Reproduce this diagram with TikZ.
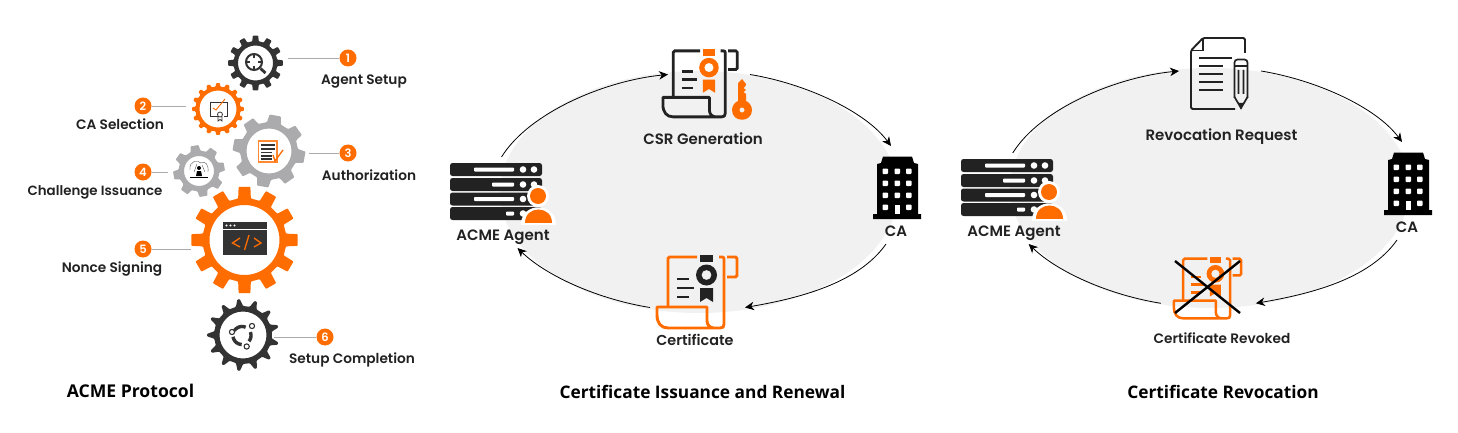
\documentclass[tikz,border=0pt]{standalone}
\usepackage{fontspec}
\setmainfont{Poppins}
\newfontfamily\labfont{Poppins}[UprightFont=* SemiBold]
\newfontfamily\titfont{Open Sans}[UprightFont=* Bold]
\usetikzlibrary{arrows.meta}
\definecolor{ora}{HTML}{FF6D00}
\definecolor{drk}{HTML}{333333}
\definecolor{blk}{HTML}{222222}
\definecolor{gry}{HTML}{ABABAD}
\definecolor{lin}{HTML}{ABABAB}
\definecolor{bgg}{HTML}{F1F1F1}
\tikzset{
  lab/.style={font=\labfont\fontsize{13.7}{15}\selectfont,text=blk,inner sep=0pt,anchor=base},
  labm/.style={lab,font=\labfont\fontsize{15}{17}\selectfont},
  tit/.style={font=\titfont\fontsize{17.3}{20}\selectfont,text=black,inner sep=0pt,anchor=base},
  badge/.style={circle,fill=ora,text=white,minimum size=17pt,inner sep=0pt,font=\labfont\fontsize{11.5}{12}\selectfont},
  holder/.style={inner sep=0pt,outer sep=0pt},
  lead/.style={draw=lin,line width=0.8pt},
  flow/.style={black,line width=0.8pt,-{Stealth[length=9pt,width=8.5pt,inset=2.8pt]}}
}
% centre, colour, tip, root, hole, teeth, rotation, tip half-width, root half-width (fractions of pitch)
\newcommand{\gearfill}[9]{%
  \begin{scope}[shift={#1}]
    \pgfmathsetmacro{\gp}{360/#6}
    \pgfmathsetmacro{\gt}{#8*\gp}
    \pgfmathsetmacro{\gr}{#9*\gp}
    \fill[#2,even odd rule,rounded corners=0.8pt] ({#7-\gr}:#4)
      \foreach \i in {0,...,\numexpr#6-1\relax}{
        -- ({#7+\i*\gp-\gr}:#4) -- ({#7+\i*\gp-\gt}:#3) -- ({#7+\i*\gp+\gt}:#3) -- ({#7+\i*\gp+\gr}:#4)
      } -- cycle (0,0) circle[radius=#5pt];
  \end{scope}}
% rack server with the person, placed by offset
\newcommand{\serverpic}[1]{%
  \begin{scope}[shift={#1}]
    \foreach \yy/\dd in {163/474,178/492,192.5/474,207/506}{
      \fill[blk,rounded corners=2.5pt] (450,\yy) rectangle (542,\yy+13);
      \fill[white,rounded corners=0.8pt] (\dd,\yy+4.5) rectangle (514,\yy+8.5);
      \fill[white] (523,\yy+6.5) circle[radius=3.3pt] (534,\yy+6.5) circle[radius=3.3pt];
    }
    \fill[white] (538,196) circle[radius=11pt];
    \fill[ora] (538,196) circle[radius=8pt];
    \fill[white] (521,225) -- (521,223) .. controls (523,202) and (554,202) .. (556,223) -- (556,225) -- cycle;
    \fill[ora] (525,223) .. controls (525,205) and (552,205) .. (552,223) -- cycle;
  \end{scope}}
% office building, placed by offset
\newcommand{\buildingpic}[1]{%
  \begin{scope}[shift={#1}]
    \fill[black] (881,163) -- (883,156.5) -- (912,156.5) -- (914,163) -- (918,164) -- (918,214) -- (921,214) -- (921,219) -- (873,219) -- (873,214) -- (877,214) -- (877,164) -- cycle;
    \foreach \yy in {171,183,195,207}{
      \fill[white,rounded corners=0.8pt] (882.5,\yy-2.5) rectangle ++(5.5,5.5);
      \fill[white,rounded corners=0.8pt] (906,\yy-2.5) rectangle ++(5.5,5.5);
    }
    \foreach \yy in {171,183,195}{
      \fill[white,rounded corners=0.8pt] (894.5,\yy-2.5) rectangle ++(5.5,5.5);
    }
    \fill[white] (894.5,205) rectangle (900,214);
  \end{scope}}
% scroll with medal: offset, scale, outline colour, medal colour, line width, text-line colour
\newcommand{\scrollpic}[6]{%
  \begin{scope}[shift={#1},scale=#2]
    \draw[#3,line width=#5pt,rounded corners=1.5pt] (41,2) -- (12,2) -- (12,52);
    \draw[#3,line width=#5pt,line join=round] (63,2) -- (66,2) .. controls (67.5,2) and (68,2.5) .. (68,4) -- (68,69) .. controls (68,72) and (67,73) .. (64,73) -- (12,73) .. controls (5,73) and (1,68) .. (1,60) -- (1,52) -- (51,52) -- (51,66) .. controls (51,70) and (54,73) .. (58,73);
    \draw[#3,line width=#5pt,rounded corners=1.5pt] (71,2) -- (81,2) -- (81,22) -- (71,22);
    \fill[#4] (44,0) rectangle (57,7);
    \fill[#4,even odd rule] (50.5,20) circle[radius=10.5pt] (50.5,20) circle[radius=5pt];
    \fill[#4] (44,33) -- (57,33) -- (57,47) -- (50.5,43) -- (44,47) -- cycle;
    \draw[#6,line width=#5pt] (21,24) -- (33,24) (21,33) -- (38,33) (21,42) -- (33,42);
  \end{scope}}
\begin{document}
\begin{tikzpicture}[x=1pt,y=-1pt]
\useasboundingbox (0,0) rectangle (1458,433);
\fill[white] (0,0) rectangle (1458,433);
% grey discs
\fill[bgg] (699,192) ellipse[x radius=199pt,y radius=121pt];
\fill[bgg] (1210,188) ellipse[x radius=200pt,y radius=120pt];

% ---------- left panel: gears
\gearfill{(255.5,63)}{drk}{27.5}{22}{17.5}{12}{0}{0.2}{0.27}
\gearfill{(218,109)}{ora}{26}{22.5}{18.5}{16}{0}{0.18}{0.27}
\gearfill{(199,171)}{gry}{26}{20.5}{15}{8}{-10}{0.2}{0.31}
\gearfill{(269,151)}{gry}{36.5}{29}{22.5}{8}{10}{0.2}{0.31}
\gearfill{(244.5,240)}{ora}{53.5}{42}{35}{12}{0}{0.21}{0.29}
\gearfill{(243,335)}{drk}{36}{29}{23.5}{13}{-97}{0.07}{0.26}
% gear icons
\draw[drk,line width=2pt] (254,62) circle[radius=8pt];
\draw[drk,line width=1.5pt] (254,55) -- (254,58) (254,66) -- (254,69) (247,62) -- (250,62) (258,62) -- (261,62);
\draw[drk,line width=2.8pt] (260.5,68.5) -- (265.5,73);
\draw[drk,line width=0.9pt] (218,116) -- (210,116) -- (210,102) -- (227,102) -- (227,116) -- (224,116);
\draw[ora,line width=0.9pt] (213,108) -- (216,110) -- (225,99);
\draw[drk,line width=0.8pt] (220,114.5) circle[radius=2.5pt] (218,117) -- (218,121) -- (220,119.5) -- (222,121) -- (222,117);
\draw[ora!80,line width=1.2pt,fill=white] (258.5,141) rectangle (277,162);
\draw[drk,line width=1.1pt] (261,145) -- (275,145) (261,149) -- (275,149) (261,152.5) -- (272,152.5) (261,156) -- (272,156) (261,159) -- (272,159);
\draw[ora,line width=1.3pt] (273,155) -- (275,161) -- (283,150);
\draw[drk,line width=0.3pt] (190,170) .. controls (189,160) and (198,160) .. (201,163) .. controls (205,160) and (209,165) .. (208,172)
  (194,172) -- (197,164) (205,172) -- (202,165);
\fill[black] (199,168) circle[radius=2pt] (196,176) -- (197,171) -- (201,171) -- (202,176) -- cycle;
\draw[black,line width=1.8pt] (190,177.5) -- (208,177.5);
\fill[drk] (223,222) rectangle (267,255);
\fill[white] (223,228.5) rectangle (267,229.5);
\fill[white] (226.5,225.5) circle[radius=1.2pt] (230.5,225.5) circle[radius=1.2pt] (234.5,225.5) circle[radius=1.2pt];
\draw[ora,line width=1.3pt] (240,238) -- (232.5,243) -- (240,247) (254,238) -- (261,243) -- (254,247) (249,235) -- (244.5,250);
\begin{scope}[shift={(242,335.5)}]
  \foreach \s/\e in {-148/-66,-22/40,92/172}{
    \draw[drk,line width=3.4pt] plot[domain=\s:\e,samples=10,smooth] ({\x}:9);
  }
\end{scope}
\draw[drk,line width=1.1pt,fill=white] (252,326) circle[radius=2.6pt] (232,332) circle[radius=2.6pt] (246.7,346.5) circle[radius=2.6pt];

% left panel: holders, badges, leads, labels
\node[holder,minimum width=65pt,minimum height=60pt] (g1) at (255.5,63) {};
\node[holder,minimum width=64pt,minimum height=56pt] (g2) at (218,109) {};
\node[holder,minimum width=80pt,minimum height=76pt] (g3) at (269,151) {};
\node[holder,minimum width=62pt,minimum height=54pt] (g4) at (199,171) {};
\node[holder,minimum width=107pt,minimum height=107pt] (g5) at (244.5,240) {};
\node[holder,minimum width=62pt,minimum height=72pt] (g6) at (243,335) {};
\node[badge] (b1) at (348,58) {1};
\node[badge] (b2) at (143,106) {2};
\node[badge] (b3) at (348,153) {3};
\node[badge] (b4) at (143,172) {4};
\node[badge] (b5) at (143,249) {5};
\node[badge] (b6) at (325,337) {6};
\draw[lead] (b1.west) -- (b1.west -| g1.east);
\draw[lead] (b2.east) -- (b2.east -| g2.west);
\draw[lead] (b3.west) -- (b3.west -| g3.east);
\draw[lead] (b4.east) -- (b4.east -| g4.west);
\draw[lead] (b5.east) -- (b5.east -| g5.west);
\draw[lead] (b6.west) -- (b6.west -| g6.east);
\node[lab] (t1) at (364,84.5) {Agent Setup};
\node[lab] (t2) at (120,129) {CA Selection};
\node[lab] (t3) at (369,180) {Authorization};
\node[lab,font=\labfont\fontsize{13.4}{15}\selectfont] (t4) at (95,195) {Challenge Issuance};
\node[lab] (t5) at (112,272) {Nonce Signing};
\node[lab] (t6) at (352,363) {Setup Completion};
\node[tit,font=\titfont\fontsize{17.6}{20}\selectfont] (h1) at (130.5,397) {ACME Protocol};

% ---------- middle panel
\serverpic{(0,0)}
\buildingpic{(0,0)}
\scrollpic{(662,49)}{0.93}{blk}{ora}{2.8}{blk}
\fill[ora,even odd rule] (742,79) -- (746,84) -- (745.5,86) -- (743.5,88) -- (746,90) -- (743.5,92) -- (746,94) -- (746,101) .. controls (749,102) and (752,106) .. (752,110) .. controls (752,123) and (732,123) .. (732,110) .. controls (732,106) and (735,102) .. (738,101) -- (738,83) -- cycle (742,110) circle[radius=2.6pt];
\scrollpic{(656,255)}{1}{ora}{blk}{2.9}{blk}
\node[holder,minimum width=104pt,minimum height=91pt] (agentA) at (501.5,202.5) {};
\node[holder,minimum width=82pt,minimum height=60pt] (csr) at (709,74.5) {};
\node[holder,minimum width=48pt,minimum height=98pt] (caA) at (897,195) {};
\node[holder,minimum width=95pt,minimum height=75pt] (cert) at (697.5,307.5) {};
\node[labm] (t7) at (703,144) {CSR Generation};
\node[labm] (t8) at (503,240) {ACME Agent};
\node[labm] (t9) at (896,236) {CA};
\node[lab,font=\labfont\fontsize{14.4}{16}\selectfont] (t10) at (695,345.5) {Certificate};
\node[tit] (h2) at (702.5,398) {Certificate Issuance and Renewal};
\draw[flow] (agentA.north) .. controls +(28,-45) and +(-62,6) .. (csr.west);
\draw[flow] (csr.east) .. controls +(55,9) and +(-26,-35) .. ([xshift=-6pt]caA.north);
\draw[flow] ([xshift=-11pt]caA.south) .. controls +(-28,40) and +(52,-9) .. (cert.east);
\draw[flow] (cert.west) .. controls +(-50,-8) and +(30,29) .. ([xshift=16pt]agentA.south);

% ---------- right panel
\serverpic{(511,-4)}
\buildingpic{(511,-4)}
% request page with pencil
\draw[blk,line width=1.9pt,rounded corners=1.5pt] (1245,53) -- (1245,38) -- (1203,38) -- (1191,50.5) -- (1191,109) -- (1235,109);
\draw[blk,line width=1.3pt] (1203,38) -- (1203,50.5) -- (1191,50.5);
\draw[blk,line width=1.6pt] (1199,58) -- (1232,58) (1199,66) -- (1223,66) (1199,74) -- (1223,74) (1199,82) -- (1223,82) (1199,90) -- (1223,90);
\draw[blk,line width=1.7pt,rounded corners=3pt] (1234.5,98) -- (1234.5,59.5) -- (1247.5,59.5) -- (1247.5,98);
\draw[blk,line width=1.7pt] (1234.5,97) -- (1241,108) -- (1247.5,97) (1234.5,66) -- (1247.5,66) (1238.5,70) -- (1238.5,94) (1243.5,70) -- (1243.5,94);
\fill[blk] (1238,103) -- (1244,103) -- (1241,109.5) -- cycle;
\scrollpic{(1173,257)}{0.84}{ora}{ora}{2.5}{ora}
\draw[black,line width=2.4pt] (1175,261) -- (1240,313) (1175,313) -- (1240,261);
\node[holder,minimum width=104pt,minimum height=91pt] (agentB) at (1012.7,198.5) {};
\node[holder,minimum width=82pt,minimum height=60pt] (req) at (1220,71) {};
\node[holder,minimum width=48pt,minimum height=98pt] (caB) at (1408,191) {};
\node[holder,minimum width=95pt,minimum height=60pt] (rev) at (1208.4,303.3) {};
\node[labm] (t11) at (1221.5,140) {Revocation Request};
\node[labm] (t12) at (1014,236) {ACME Agent};
\node[labm] (t13) at (1407,232) {CA};
\node[lab] (t14) at (1222,343.5) {Certificate Revoked};
\node[tit] (h3) at (1223,398) {Certificate Revocation};
\draw[flow] (agentB.north) .. controls +(28,-45) and +(-62,6) .. (req.west);
\draw[flow] (req.east) .. controls +(55,9) and +(-26,-35) .. ([xshift=-6pt]caB.north);
\draw[flow] ([xshift=-11pt]caB.south) .. controls +(-28,40) and +(52,-9) .. (rev.east);
\draw[flow] (rev.west) .. controls +(-50,-8) and +(30,29) .. ([xshift=16pt]agentB.south);
\end{tikzpicture}
\end{document}
